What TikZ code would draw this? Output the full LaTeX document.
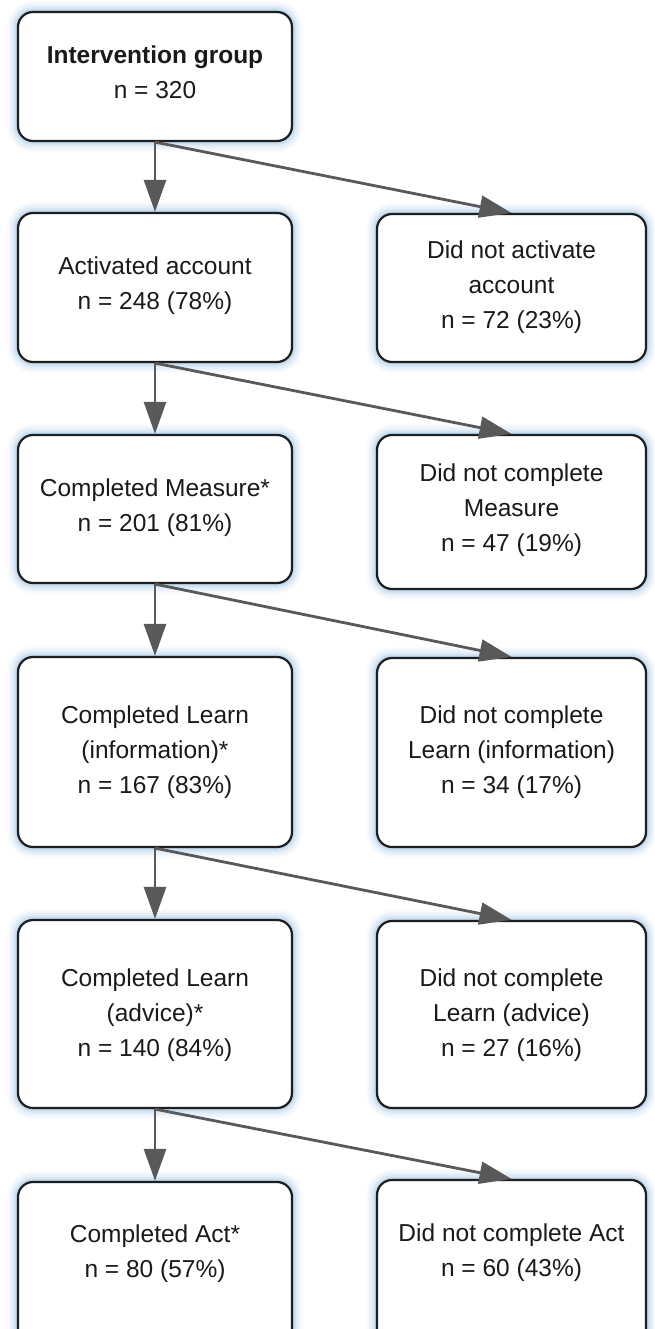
\documentclass[tikz,border=0pt]{standalone}
\usepackage{fontspec}
\setmainfont{Liberation Sans}
\usetikzlibrary{arrows.meta}
\definecolor{glow}{HTML}{8CBCE4}
\definecolor{arrowgray}{HTML}{595959}
\definecolor{boxline}{HTML}{1E1E1E}
\definecolor{txt}{HTML}{1A1A1A}
\begin{document}
\begin{tikzpicture}[x=1pt,y=-1pt,
  box/.style={rectangle, rounded corners=15pt, draw=boxline, line width=2.2pt, fill=white, inner sep=0pt,
    preaction={draw=glow, line width=22pt, opacity=0.05},
    preaction={draw=glow, line width=18pt, opacity=0.07},
    preaction={draw=glow, line width=14pt, opacity=0.09},
    preaction={draw=glow, line width=10pt, opacity=0.12},
    preaction={draw=glow, line width=7pt, opacity=0.16},
    preaction={draw=glow, line width=4.5pt, opacity=0.22}},
  lbox/.style={box, minimum width=274pt},
  rbox/.style={box, minimum width=269pt},
  lbl/.style={align=center, inner sep=0pt, text=txt, font=\fontsize{24.5pt}{35pt}\selectfont},
  arr/.style={draw=arrowgray, line width=2.8pt, -{Triangle[length=32pt,width=22pt]}}]
\clip (0,0) rectangle (654,1329);
\fill[white] (0,0) rectangle (654,1329);

% boxes
\node[lbox, minimum height=129pt] (L0) at (155,76.5) {};
\node[lbox, minimum height=149pt] (L1) at (155,287.5) {};
\node[rbox, minimum height=148pt] (R1) at (511.5,288) {};
\node[lbox, minimum height=148pt] (L2) at (155,509) {};
\node[rbox, minimum height=154pt] (R2) at (511.5,512) {};
\node[lbox, minimum height=190pt] (L3) at (155,752) {};
\node[rbox, minimum height=189pt] (R3) at (511.5,752.5) {};
\node[lbox, minimum height=188pt] (L4) at (155,1014) {};
\node[rbox, minimum height=187pt] (R4) at (511.5,1014.5) {};
\node[lbox, minimum height=178pt] (L5) at (155,1271) {};
\node[rbox, minimum height=180pt] (R5) at (511.5,1270) {};

% texts
\node[lbl] (t0) at (155,72) {\textbf{Intervention group}\\n = 320};
\node[lbl] (t1) at (155,286) {Activated account\\n = 248 (78\%)};
\node[lbl] (u1) at (511.5,287) {Did not activate\\account\\n = 72 (23\%)};
\node[lbl] (t2) at (155,508) {Completed Measure*\\n = 201 (81\%)};
\node[lbl] (u2) at (511.5,510) {Did not complete\\Measure\\n = 47 (19\%)};
\node[lbl] (t3) at (155,752) {Completed Learn\\(information)*\\n = 167 (83\%)};
\node[lbl] (u3) at (511.5,752) {Did not complete\\Learn (information)\\n = 34 (17\%)};
\node[lbl] (t4) at (155,1015) {Completed Learn\\(advice)*\\n = 140 (84\%)};
\node[lbl] (u4) at (511.5,1015) {Did not complete\\Learn (advice)\\n = 27 (16\%)};
\node[lbl] (t5) at (155,1254) {Completed Act*\\n = 80 (57\%)};
\node[lbl] (u5) at (511.5,1253) {Did not complete Act\\n = 60 (43\%)};

% connectors
\draw[arr] (L0.south) -- (L1.north);
\draw[arr] (L0.south) -- (R1.north);
\draw[arr] (L1.south) -- (L2.north);
\draw[arr] (L1.south) -- (R2.north);
\draw[arr] (L2.south) -- (L3.north);
\draw[arr] (L2.south) -- (R3.north);
\draw[arr] (L3.south) -- (L4.north);
\draw[arr] (L3.south) -- (R4.north);
\draw[arr] (L4.south) -- (L5.north);
\draw[arr] (L4.south) -- (R5.north);
\end{tikzpicture}
\end{document}
